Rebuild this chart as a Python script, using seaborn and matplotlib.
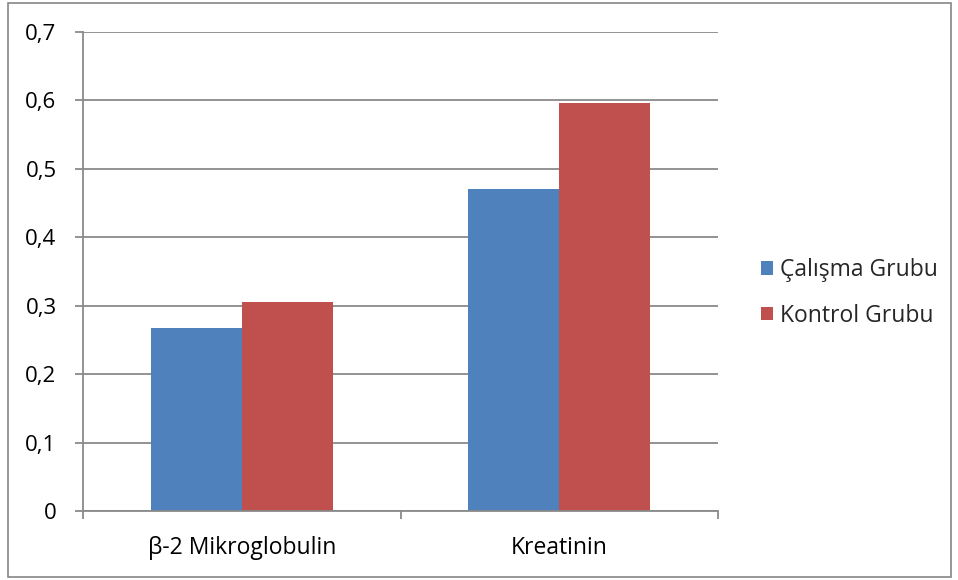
import matplotlib
matplotlib.use("Agg")
import matplotlib.pyplot as plt
from matplotlib.patches import Rectangle
import seaborn as sns
import pandas as pd

# Chart data
categories = ["β-2 Mikroglobulin", "Kreatinin"]
groups = ["Çalışma Grubu", "Kontrol Grubu"]
calisma = [0.268, 0.470]
kontrol = [0.306, 0.596]
y_ticks = [0, 0.1, 0.2, 0.3, 0.4, 0.5, 0.6, 0.7]
y_tick_labels = ["0", "0,1", "0,2", "0,3", "0,4", "0,5", "0,6", "0,7"]
colors = ["#4F81BD", "#C0504D"]

df = pd.DataFrame({
    "Parametre": categories * 2,
    "Grup": [groups[0]] * len(categories) + [groups[1]] * len(categories),
    "Değer": calisma + kontrol,
})

sns.set_theme(style="white")
plt.rcParams["font.family"] = ["Open Sans", "DejaVu Sans"]

font_size = 16.5
grid_color = "#8A8A8A"
fig = plt.figure(figsize=(9.58, 5.8), dpi=100)
ax = fig.add_axes([83 / 958, 1 - 511 / 580, (718 - 83) / 958, (511 - 32) / 580])

sns.barplot(data=df, x="Parametre", y="Değer", hue="Grup", order=categories,
            hue_order=groups, palette=colors, width=0.572, gap=0,
            saturation=1, linewidth=0, ax=ax, legend=False)

ax.set_xlim(-0.5, len(categories) - 0.5)
ax.set_ylim(0, 0.7)
ax.set_yticks(y_ticks)
ax.set_yticklabels(y_tick_labels)
ax.set_xlabel("")
ax.set_ylabel("")

# horizontal gridlines behind bars
ax.set_axisbelow(True)
ax.yaxis.grid(True, color=grid_color, linewidth=1.3)
ax.xaxis.grid(False)

for side in ["top", "right"]:
    ax.spines[side].set_visible(False)
for side in ["left", "bottom"]:
    ax.spines[side].set_color(grid_color)
    ax.spines[side].set_linewidth(1.3)

# y ticks outside, x ticks at category boundaries
ax.tick_params(axis="y", which="major", length=6, width=1.3, color=grid_color,
               left=True, pad=13, labelsize=font_size - 0.5, labelcolor="black")
ax.set_xticks([i - 0.5 for i in range(len(categories) + 1)], minor=True)
ax.tick_params(axis="x", which="minor", length=6, width=1.3, color=grid_color,
               bottom=True, direction="out")
ax.tick_params(axis="x", which="major", length=0, pad=18, labelsize=font_size,
               labelcolor="black")

# legend with small square markers
handles = [Rectangle((0, 0), 1, 1, facecolor=c, edgecolor="none") for c in colors]
fig.legend(handles, groups, loc="center left", bbox_to_anchor=(750 / 958, 1 - 293 / 580),
           frameon=False, fontsize=font_size, handlelength=0.5, handleheight=0.5,
           handletextpad=0.3, labelspacing=0.95, borderpad=0)

# outer chart border
fig.patches.append(Rectangle((8 / 958, 1 - 577 / 580), 943 / 958, 574 / 580,
                             transform=fig.transFigure, fill=False,
                             edgecolor="#868686", linewidth=1.2))

fig.savefig("out.png", dpi=100)
